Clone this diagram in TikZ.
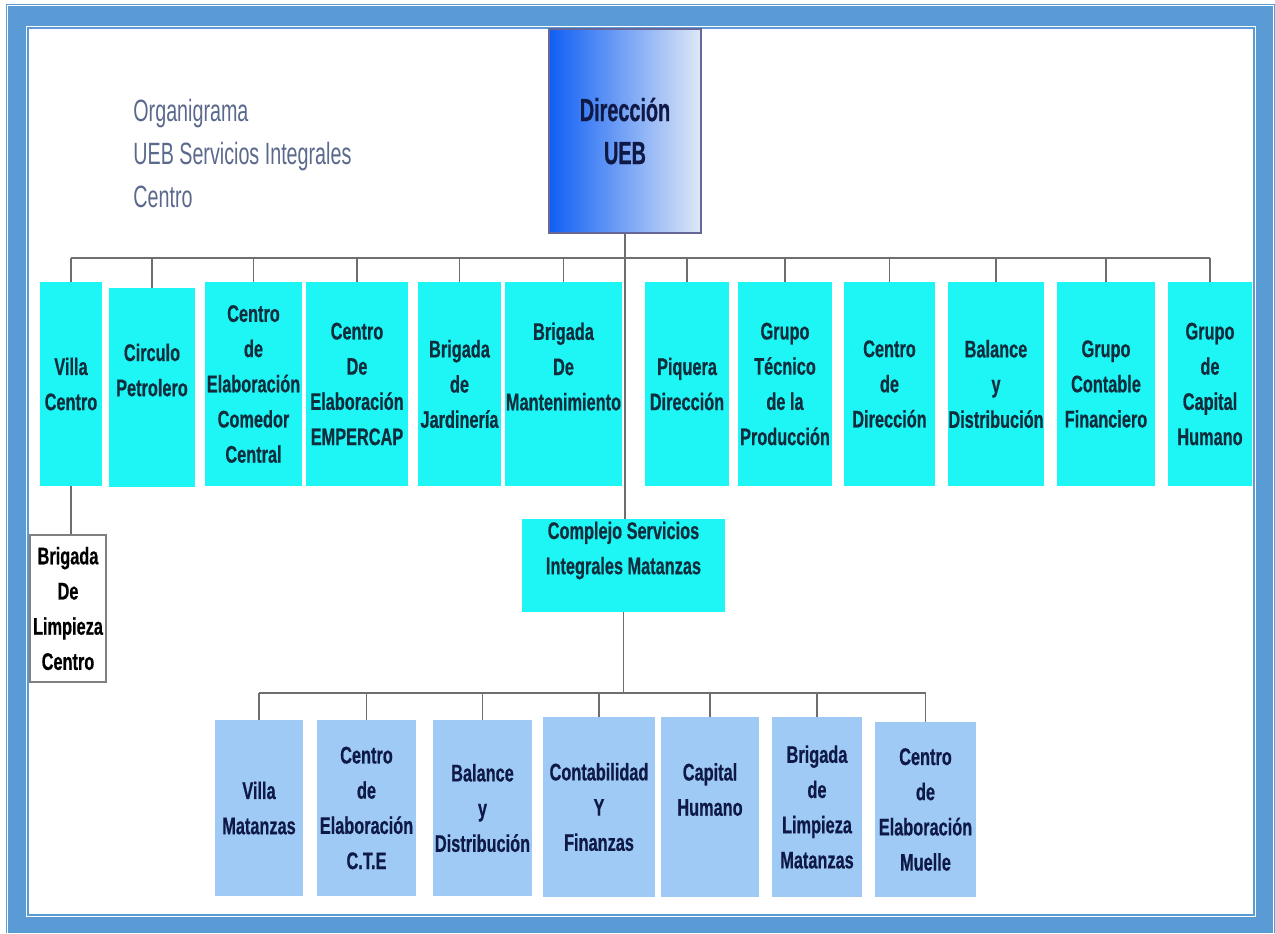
\documentclass[tikz,border=0pt]{standalone}
\usepackage{fontspec}
\usepackage{tikz}

\newfontfamily\boxfont{Liberation Sans}[FakeStretch=0.68, FakeBold=0.5]
\newfontfamily\titlefont{Liberation Sans}[FakeStretch=0.64]
\newfontfamily\dirfont{Liberation Sans}[FakeStretch=0.62, FakeBold=0.5]

\definecolor{frameblue}{RGB}{91,155,213}
\definecolor{cyanbox}{RGB}{30,245,245}
\definecolor{lightbox}{RGB}{158,202,245}
\definecolor{boxtext}{RGB}{15,45,60}
\definecolor{titlegray}{RGB}{90,105,140}
\definecolor{linegray}{RGB}{110,110,110}
\definecolor{dirleft}{RGB}{15,95,245}
\definecolor{dirright}{RGB}{222,232,246}
\definecolor{dirtext}{RGB}{15,25,70}

\tikzset{
	unit/.style={fill=cyanbox, text=boxtext, align=center, inner sep=0pt,
		font={\boxfont\bfseries\fontsize{12}{17.6}\selectfont}},
	subunit/.style={unit, fill=lightbox, text=dirtext},
	link/.style={draw=linegray, line width=0.75pt},
}

\begin{document}
\begin{tikzpicture}[x=0.5pt, y=-0.5pt]
	
	\useasboundingbox (0,0) rectangle (1275,933);
	
	% page frame
	\fill[frameblue] (6,4) rectangle (1275,933);
	\draw[white, line width=0.6pt] (7.6,933) |- (1273.4,5.6) -- (1273.4,933);
	\fill[white] (26,26) rectangle (1256,917);
	\draw[frameblue, line width=1pt] (28.3,28.3) rectangle (1253.7,914.7);
	
	\node[anchor=north west, align=left, inner sep=0pt, text=titlegray,
		font={\titlefont\fontsize{15.4}{21.5}\selectfont}] (titulo) at (133,99)
		{Organigrama\\UEB Servicios Integrales\\Centro};
	
	\node[left color=dirleft, right color=dirright, draw=gray!80!blue, line width=1pt,
		minimum width=76pt, minimum height=102pt, text=dirtext, align=center,
		font={\dirfont\bfseries\fontsize{16}{21.5}\selectfont}] (dir) at (625,131) {Dirección\\UEB};
	
	\coordinate (bus) at (0,258);
	\coordinate (bus2) at (0,693);
	
	\node[unit, minimum width=31pt, minimum height=102pt] (villa) at (71,384) {Villa\\Centro};
	\node[unit, minimum width=43pt, minimum height=99.5pt] (circulo) at (152,387.5) {Circulo\\Petrolero\\\mbox{}};
	\node[unit, minimum width=48.5pt, minimum height=102pt] (comedor) at (253.5,384) {Centro\\de\\Elaboración\\Comedor\\Central};
	\node[unit, minimum width=51pt, minimum height=102pt] (empercap) at (357,384) {Centro\\De\\Elaboración\\EMPERCAP};
	\node[unit, minimum width=41.5pt, minimum height=102pt] (jardin) at (459.5,384) {Brigada\\de\\Jardinería};
	\node[unit, minimum width=58.5pt, minimum height=102pt] (manten) at (563.5,384) {Brigada\\De\\Mantenimiento\\\mbox{}};
	\node[unit, minimum width=42pt, minimum height=102pt] (piquera) at (687,384) {Piquera\\Dirección};
	\node[unit, minimum width=47pt, minimum height=102pt] (tecnico) at (785,384) {Grupo\\Técnico\\de la\\Producción};
	\node[unit, minimum width=45.5pt, minimum height=102pt] (centrodir) at (889.5,384) {Centro\\de\\Dirección};
	\node[unit, minimum width=48pt, minimum height=102pt] (balance) at (996,384) {Balance\\y\\Distribución};
	\node[unit, minimum width=49pt, minimum height=102pt] (contable) at (1106,384) {Grupo\\Contable\\Financiero};
	\node[unit, minimum width=42pt, minimum height=102pt] (capital) at (1210,384) {Grupo\\de\\Capital\\Humano};
	
	\node[unit, fill=white, draw=gray, line width=0.6pt, text=black,
		minimum width=38pt, minimum height=73.5pt] (limpcentro) at (68,608.5) {Brigada\\De\\Limpieza\\Centro};
	
	\node[unit, minimum width=101.5pt, minimum height=46.5pt] (complejo) at (623.5,565.5) {Complejo Servicios\\Integrales Matanzas\\\mbox{}};
	
	\node[subunit, minimum width=44pt, minimum height=88pt] (villamat) at (259,808) {Villa\\Matanzas};
	\node[subunit, minimum width=49.5pt, minimum height=88pt] (cte) at (366.5,808) {Centro\\de\\Elaboración\\C.T.E};
	\node[subunit, minimum width=49.5pt, minimum height=88pt] (balmat) at (482.5,808) {Balance\\y\\Distribución};
	\node[subunit, minimum width=56pt, minimum height=90pt] (finanzas) at (599,807) {Contabilidad\\Y\\Finanzas};
	\node[subunit, minimum width=49pt, minimum height=90pt] (caphum) at (710,807) {Capital\\Humano\\\mbox{}};
	\node[subunit, minimum width=45pt, minimum height=90pt] (limpmat) at (817,807) {Brigada\\de\\Limpieza\\Matanzas};
	\node[subunit, minimum width=50.5pt, minimum height=87.5pt] (muelle) at (925.5,809.5) {Centro\\de\\Elaboración\\Muelle};
	
	\draw[link] (villa.north |- bus) -- (capital.north |- bus);
	\draw[link] (dir.south) -- (dir.south |- complejo.north);
	\draw[link] (villa.north) -- (villa.north |- bus);
	\draw[link] (circulo.north) -- (circulo.north |- bus);
	\draw[link] (comedor.north) -- (comedor.north |- bus);
	\draw[link] (empercap.north) -- (empercap.north |- bus);
	\draw[link] (jardin.north) -- (jardin.north |- bus);
	\draw[link] (manten.north) -- (manten.north |- bus);
	\draw[link] (piquera.north) -- (piquera.north |- bus);
	\draw[link] (tecnico.north) -- (tecnico.north |- bus);
	\draw[link] (centrodir.north) -- (centrodir.north |- bus);
	\draw[link] (balance.north) -- (balance.north |- bus);
	\draw[link] (contable.north) -- (contable.north |- bus);
	\draw[link] (capital.north) -- (capital.north |- bus);
	\draw[link] (villa.south) -- (villa.south |- limpcentro.north);
	
	\draw[link] (complejo.south) -- (complejo.south |- bus2);
	\draw[link] (villamat.north |- bus2) -- (muelle.north |- bus2);
	\draw[link] (villamat.north) -- (villamat.north |- bus2);
	\draw[link] (cte.north) -- (cte.north |- bus2);
	\draw[link] (balmat.north) -- (balmat.north |- bus2);
	\draw[link] (finanzas.north) -- (finanzas.north |- bus2);
	\draw[link] (caphum.north) -- (caphum.north |- bus2);
	\draw[link] (limpmat.north) -- (limpmat.north |- bus2);
	\draw[link] (muelle.north) -- (muelle.north |- bus2);
	
\end{tikzpicture}
\end{document}
